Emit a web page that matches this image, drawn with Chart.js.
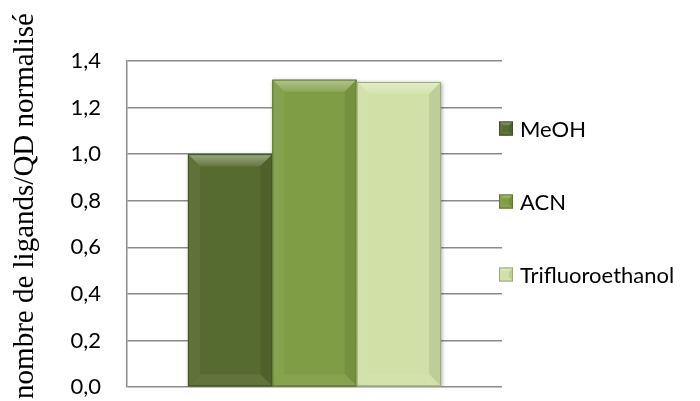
<!DOCTYPE html>
<html>
<head>
<meta charset="utf-8">
<script src="https://cdn.jsdelivr.net/npm/chart.js@4.4.0/dist/chart.umd.min.js"></script>
<style>
  html, body { margin: 0; padding: 0; background: #fff; }
  #wrap { width: 700px; height: 401px; position: relative; }
</style>
</head>
<body>
<div id="wrap"><canvas id="ligandsChart"></canvas></div>
<script>
// solvants et nombre de ligands par QD (normalisé sur MeOH)
const solvents = ['MeOH', 'ACN', 'Trifluoroethanol'];
const ligandValues = [1.00, 1.32, 1.31];
const solventColors = ['#566B2F', '#7F9D45', '#D0E0A6'];
const yTicks = [0, 0.2, 0.4, 0.6, 0.8, 1.0, 1.2, 1.4];
const yTitle = 'nombre de ligands/QD normalisé';

const gridColor = '#8a8a8a';
const labelFont = { family: 'Lato, "Open Sans", sans-serif', size: 22 };

function shade(hex, amt) {
    const n = parseInt(hex.slice(1), 16);
    let r = (n >> 16) & 255, g = (n >> 8) & 255, b = n & 255;
    const t = amt < 0 ? 0 : 255;
    const p = Math.abs(amt);
    r = Math.round(r + (t - r) * p);
    g = Math.round(g + (t - g) * p);
    b = Math.round(b + (t - b) * p);
    return `rgb(${r},${g},${b})`;
}

// petit effet biseauté sur les barres
function drawBevel(ctx, left, top, right, bottom, color, b) {
    ctx.save();
    const poly = (pts, fill) => {
        ctx.beginPath();
        ctx.moveTo(pts[0][0], pts[0][1]);
        for (let i = 1; i < pts.length; i++) ctx.lineTo(pts[i][0], pts[i][1]);
        ctx.closePath();
        ctx.fillStyle = fill;
        ctx.fill();
    };
    const topGrad = ctx.createLinearGradient(0, top, 0, top + b);
    topGrad.addColorStop(0, shade(color, 0.4));
    topGrad.addColorStop(1, shade(color, 0.1));
    poly([[left, top], [right, top], [right - b, top + b], [left + b, top + b]], topGrad);
    poly([[left, top], [left + b, top + b], [left + b, bottom - b], [left, bottom]], shade(color, 0.05));
    poly([[right, top], [right, bottom], [right - b, bottom - b], [right - b, top + b]], shade(color, -0.08));
    poly([[left, bottom], [left + b, bottom - b], [right - b, bottom - b], [right, bottom]], shade(color, 0.06));
    ctx.strokeStyle = shade(color, -0.25);
    ctx.lineWidth = 1;
    ctx.strokeRect(left + 0.5, top + 0.5, right - left - 1, bottom - top - 1);
    ctx.restore();
}

const bevelPlugin = {
    id: 'bevel',
    beforeDatasetsDraw(chart) {
        const ctx = chart.ctx;
        ctx.save();
        ctx.shadowColor = 'rgba(0,0,0,0.35)';
        ctx.shadowBlur = 4;
        ctx.shadowOffsetX = 1;
        ctx.shadowOffsetY = 1;
    },
    afterDatasetsDraw(chart) {
        const ctx = chart.ctx;
        ctx.restore();
        chart.data.datasets.forEach((ds, i) => {
            chart.getDatasetMeta(i).data.forEach(el => {
                const { x, y, width, base } = el.getProps(['x', 'y', 'width', 'base'], true);
                drawBevel(ctx, x - width / 2, y, x + width / 2, base, ds.backgroundColor, 12);
            });
        });
    }
};

const sideLegendPlugin = {
    id: 'sideLegend',
    afterDraw(chart) {
        const ctx = chart.ctx;
        const box = 14;
        const step = 73;
        const cy = chart.height / 2 + 1;
        const left = chart.chartArea.right - 3;
        ctx.save();
        ctx.font = `${labelFont.size}px ${labelFont.family}`;
        ctx.textBaseline = 'middle';
        chart.data.datasets.forEach((ds, i) => {
            const yc = cy + (i - (chart.data.datasets.length - 1) / 2) * step;
            ctx.fillStyle = ds.backgroundColor;
            ctx.fillRect(left, yc - box / 2, box, box);
            drawBevel(ctx, left, yc - box / 2, left + box, yc + box / 2, ds.backgroundColor, 4);
            ctx.fillStyle = '#000';
            ctx.fillText(ds.label, left + box + 7, yc + 1);
        });
        ctx.restore();
    }
};

const axisTitlePlugin = {
    id: 'axisTitle',
    afterDraw(chart) {
        const ctx = chart.ctx;
        ctx.save();
        ctx.translate(33, 206);
        ctx.rotate(-Math.PI / 2);
        ctx.font = '29px "Liberation Serif", "Times New Roman", serif';
        ctx.fillStyle = '#000';
        ctx.textAlign = 'center';
        ctx.textBaseline = 'alphabetic';
        ctx.fillText(yTitle, 0, 0);
        ctx.restore();
    }
};

const ctx = document.getElementById('ligandsChart').getContext('2d');
new Chart(ctx, {
    type: 'bar',
    data: {
        labels: [''],
        datasets: solvents.map((s, i) => ({
            label: s,
            data: [ligandValues[i]],
            backgroundColor: solventColors[i],
            borderWidth: 0
        }))
    },
    options: {
        responsive: true,
        maintainAspectRatio: false,
        animation: false,
        categoryPercentage: 0.675,
        barPercentage: 1.0,
        layout: {
            padding: { left: 65, right: 198, top: 61, bottom: 14 }
        },
        plugins: {
            legend: { display: false },
            tooltip: { enabled: false }
        },
        scales: {
            x: {
                display: false
            },
            y: {
                min: 0,
                max: 1.4,
                afterFit: function(scale) {
                    scale.width = 62;
                },
                afterBuildTicks: function(scale) {
                    scale.ticks = yTicks.map(v => ({ value: v }));
                },
                ticks: {
                    padding: 0,
                    color: '#000',
                    font: labelFont,
                    callback: function(value) {
                        return value.toFixed(1).replace('.', ',');
                    }
                },
                grid: {
                    color: gridColor,
                    lineWidth: 1.5,
                    drawTicks: true,
                    tickLength: 26,
                    tickColor: 'rgba(0,0,0,0)'
                },
                border: {
                    display: true,
                    color: gridColor,
                    width: 1.5
                }
            }
        }
    },
    plugins: [bevelPlugin, sideLegendPlugin, axisTitlePlugin]
});
</script>
</body>
</html>
